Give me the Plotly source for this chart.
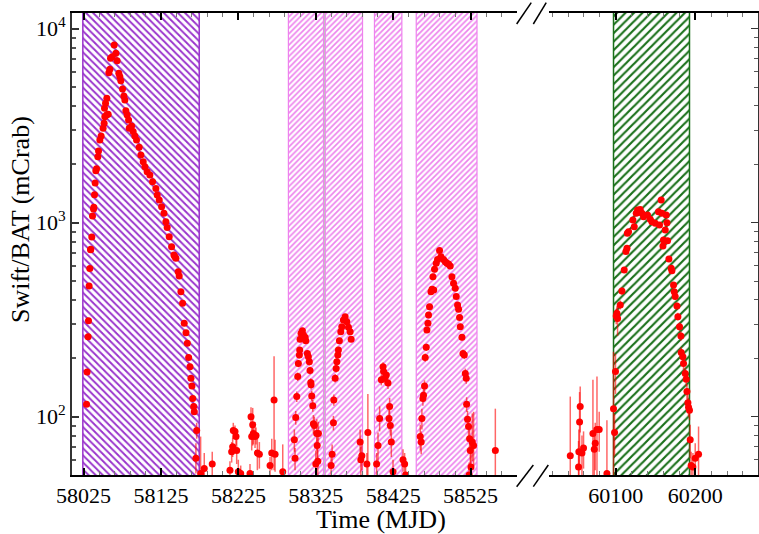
import plotly.graph_objects as go

# ---------------- data (MJD, Swift/BAT flux in mCrab) ----------------
# 2017 giant outburst
t_a = [58028.8, 58029.5, 58030.8, 58031.3, 58032.1, 58033.0, 58033.9, 58034.3, 58035.6, 58036.5,
       58037.8, 58038.2, 58039.1, 58039.9, 58040.8, 58041.7, 58043.4, 58044.3, 58046.0, 58047.6,
       58050.2, 58051.5, 58052.4, 58054.6, 58056.7, 58052.0, 58053.3, 58055.0, 58057.6, 58058.9,
       58059.8, 58061.9, 58064.5, 58066.7, 58068.3, 58070.5, 58071.8, 58073.1, 58075.3, 58077.0,
       58078.3, 58079.6, 58081.3, 58083.1, 58083.9, 58087.0, 58089.0, 58091.2, 58093.4, 58096.8,
       58099.0, 58102.0, 58104.2, 58107.1, 58110.6, 58114.1, 58118.4, 58120.1, 58122.7, 58125.8,
       58128.8, 58131.3, 58133.0, 58135.6, 58138.7, 58141.7, 58143.0, 58144.3, 58147.2, 58148.5,
       58150.7, 58152.9, 58155.0, 58157.3, 58159.0, 58160.7, 58162.4, 58163.7, 58165.0, 58165.9,
       58167.2, 58168.0]
f_a = [116, 170, 258, 312, 472, 580, 726, 730, 844, 1083,
       1177, 1200, 1394, 1600, 1854, 1900, 2188, 2343, 2668, 2797,
       3066, 3253, 3518, 3589, 3620, 3890, 4124, 4375, 5929, 6180,
       7037, 7179, 8243, 7467, 6840, 5889, 5665, 5400, 4886, 4498,
       4289, 3776, 3589, 3383, 3066, 3150, 2950, 2800, 2668, 2449,
       2234, 2061, 1943, 1831, 1760, 1626, 1503, 1390, 1309, 1210,
       1118, 1012, 946, 847, 752, 682, 668, 656, 559, 531,
       441, 384, 303, 271, 239, 202, 181, 158, 144, 124,
       113, 106]

# 2018 low state and re-brightenings
t_b = [58170.1, 58171.1, 58176.2, 58180.9, 58191.2, 58214.1, 58216.3, 58217.6, 58218.4, 58220.6,
       58221.9, 58222.8, 58224.9, 58228.0, 58240.0, 58241.3, 58242.2, 58243.5, 58244.3, 58246.5,
       58247.8, 58249.5, 58252.1, 58265.9, 58268.1, 58271.1, 58272.4, 58282.3,
       58297.3, 58298.2, 58299.1, 58300.4, 58301.7, 58302.5, 58303.8, 58304.2, 58304.7, 58306.0,
       58307.7, 58309.0, 58311.2, 58312.1, 58314.1, 58315.4, 58316.7, 58317.6, 58318.5, 58318.9,
       58319.8, 58321.1, 58321.9, 58323.2, 58325.0, 58326.3, 58326.8, 58327.6, 58328.4,
       58344.8, 58346.1, 58347.8, 58348.3, 58350.0, 58351.3, 58352.2, 58353.5, 58354.2, 58355.5,
       58357.3, 58358.6, 58360.7, 58362.9, 58365.1, 58367.2, 58369.4, 58370.7,
       58382.3, 58383.2, 58384.5, 58391.0, 58392.3,
       58403.6, 58405.4, 58407.5, 58409.7, 58411.9, 58412.6, 58413.9, 58416.1, 58418.3, 58419.6,
       58420.4, 58421.3, 58422.6, 58424.8, 58437.7, 58439.8, 58441.1,
       58460.0, 58461.2, 58462.1, 58463.4, 58464.2, 58465.5, 58466.4, 58467.7, 58468.6, 58469.9,
       58470.7, 58472.0, 58473.8, 58475.2, 58477.4, 58476.4, 58478.4, 58480.6, 58482.3, 58484.9,
       58486.7, 58490.1, 58492.3, 58494.5, 58496.5, 58498.7, 58500.9, 58503.0, 58505.2, 58506.5,
       58508.2, 58509.5, 58510.8, 58511.7, 58513.9, 58515.2, 58516.9, 58518.2, 58519.4, 58519.9,
       58521.1, 58522.4, 58523.7, 58524.6, 58525.5, 58527.2, 58528.9, 58523.2, 58557.0]
f_b = [61, 85, 51, 54, 57, 53, 66, 70, 85, 84,
       79, 67, 52, 51, 51, 100, 79, 91, 82, 79,
       80, 65, 64, 56, 65, 122, 64, 52,
       76, 61, 99, 127, 161, 188, 208, 221, 251, 269,
       277, 264, 257, 246, 212, 204, 192, 173, 150, 146,
       128, 114, 92, 90, 57, 82, 71, 59, 82,
       56, 64, 93, 122, 158, 177, 192, 208, 221, 246,
       274, 291, 315, 328, 309, 289, 274, 251,
       74, 60, 63, 57, 83,
       57, 71, 98, 155, 181, 171, 158, 164, 149, 98,
       113, 90, 74, 52, 60, 57, 50,
       79, 74, 98, 124, 129, 144, 202, 228, 280, 303,
       334, 369, 441, 454, 450, 527, 575, 618, 647, 718,
       668, 647, 629, 618, 613, 598, 527, 488, 459, 416,
       377, 358, 325, 291, 257, 212, 208, 167, 158, 116,
       97, 89, 77, 67, 55, 74, 71, 50, 67]
eh_b = [12, 8, 28, 11, 9, 6, 8, 8, 8, 6,
        8, 10, 8, 5, 6, 12, 12, 20, 10, 10,
        8, 12, 10, 6, 12, 83, 12, 20,
        10, 8, 8, 8, 8, 8, 8, 8, 8, 8,
        8, 8, 8, 8, 8, 8, 8, 8, 8, 8,
        8, 8, 10, 10, 10, 15, 10, 12, 12,
        8, 8, 8, 8, 8, 8, 8, 8, 8, 8,
        8, 8, 8, 8, 8, 8, 8, 8,
        12, 10, 10, 8, 48,
        8, 12, 15, 10, 10, 10, 10, 10, 10, 12,
        12, 10, 12, 8, 8, 8, 6,
        12, 10, 12, 10, 10, 10, 10, 10, 10, 10,
        10, 10, 10, 10, 10, 10, 10, 10, 10, 10,
        10, 10, 10, 10, 10, 10, 10, 10, 10, 10,
        10, 10, 10, 10, 10, 10, 10, 10, 10, 10,
        10, 10, 10, 12, 10, 30, 35, 8, 43]
el_b = [10, 8, 20, 10, 9, 6, 8, 8, 8, 6,
        8, 10, 8, 5, 6, 12, 12, 20, 10, 10,
        8, 12, 10, 6, 12, 69, 12, 15,
        10, 8, 8, 8, 8, 8, 8, 8, 8, 8,
        8, 8, 8, 8, 8, 8, 8, 8, 8, 8,
        8, 8, 10, 10, 10, 15, 10, 12, 12,
        8, 8, 8, 8, 8, 8, 8, 8, 8, 8,
        8, 8, 8, 8, 8, 8, 8, 8,
        12, 10, 10, 8, 33,
        8, 12, 14, 10, 10, 10, 10, 10, 10, 12,
        12, 10, 12, 8, 8, 8, 6,
        12, 10, 12, 10, 10, 10, 10, 10, 10, 10,
        10, 10, 10, 10, 10, 10, 10, 10, 10, 10,
        10, 10, 10, 10, 10, 10, 10, 10, 10, 10,
        10, 10, 10, 10, 10, 10, 10, 10, 10, 10,
        10, 10, 10, 12, 10, 15, 15, 8, 20]

# 2023 outburst
t_c = [60042.8, 60053.2, 60053.6, 60054.5, 60055.3, 60057.5, 60059.5, 60071.3, 60073.0, 60074.2,
       60076.4, 60079.2, 60088.9, 60097.2, 60098.5, 60099.7, 60100.6, 60101.5, 60102.3, 60105.7,
       60107.8, 60110.7, 60112.8, 60114.1, 60114.6, 60116.1, 60121.6, 60123.3, 60125.8, 60127.4,
       60130.8, 60133.0, 60135.0, 60140.0, 60143.4, 60145.5, 60149.7, 60153.8, 60155.1, 60157.2,
       60158.1, 60159.4, 60160.1, 60162.3, 60163.5, 60164.4, 60165.2, 60166.9, 60169.8, 60170.7,
       60172.7, 60173.6, 60174.8, 60177.0, 60178.2, 60180.3, 60182.0, 60182.4, 60184.5, 60185.3,
       60187.4, 60188.7, 60189.6, 60190.8, 60191.6, 60192.8, 60193.7, 60194.9, 60197.1, 60200.0,
       60204.2]
f_c = [63, 55, 66, 94, 113, 65, 69, 82, 68, 73,
       86, 86, 51, 110, 83, 171, 330, 341, 321, 377,
       445, 570, 710, 738, 882, 899, 1032, 953, 1118, 1162,
       1171, 1118, 1074, 1096, 1042, 1012, 993, 1140, 973, 1309,
       1118, 759, 815, 917, 1096, 1000, 807, 650, 582, 566,
       478, 441, 416, 372, 328, 291, 261, 214, 204, 188,
       167, 156, 135, 118, 112, 108, 76, 56, 55, 61,
       64]
eh_c = [64, 20, 20, 40, 30, 15, 15, 73, 20, 20,
        75, 20, 45, 106, 20, 40, 30, 30, 60, 20,
        20, 20, 20, 20, 20, 20, 20, 20, 20, 20,
        20, 20, 20, 20, 20, 20, 20, 20, 20, 20,
        20, 20, 20, 20, 20, 20, 20, 20, 20, 20,
        15, 15, 15, 15, 15, 15, 15, 15, 15, 15,
        12, 12, 12, 12, 12, 12, 15, 10, 10, 12,
        25]
el_c = [40, 20, 20, 40, 30, 15, 15, 50, 20, 20,
        50, 20, 30, 60, 20, 40, 30, 30, 60, 20,
        20, 20, 20, 20, 20, 20, 20, 20, 20, 20,
        20, 20, 20, 20, 20, 20, 20, 20, 20, 20,
        20, 20, 20, 20, 20, 20, 20, 20, 20, 20,
        15, 15, 15, 15, 15, 15, 15, 15, 15, 15,
        12, 12, 12, 12, 12, 12, 15, 10, 10, 12,
        20]

# shaded intervals (MJD)
purple_start = [58024.0]
purple_end = [58174.4]
violet_start = [58289.6, 58337.3, 58400.8, 58454.8]
violet_end = [58335.0, 58385.4, 58436.2, 58533.3]
green_start = [60097.2]
green_end = [60192.8]
divider_mjd = [58336.2]

# y-axis ticks
y_ticks = [100, 1000, 10000]
y_tick_text = ["10<sup>2</sup>", "10<sup>3</sup>", "10<sup>4</sup>"]

FONT = "Liberation Serif, Times New Roman, serif"
RED = "#ff0000"
YLO, YHI = 1, 1e6

fig = go.Figure()


def add_band(x0, x1, xa, ya, color, shape, size, solidity, lw):
    fig.add_trace(go.Scatter(
        x=[x0, x1, x1, x0, x0], y=[YLO, YLO, YHI, YHI, YLO],
        xaxis=xa, yaxis=ya, mode="lines", fill="toself",
        fillcolor="rgba(255,255,255,0)",
        fillpattern=dict(shape=shape, fgcolor=color, bgcolor="white",
                         size=size, solidity=solidity, fillmode="replace"),
        line=dict(color=color, width=lw), hoverinfo="skip", showlegend=False))


for s, e in zip(purple_start, purple_end):
    add_band(s, e, "x", "y", "#9933CC", "\\", 5, 0.38, 1.5)
for s, e in zip(violet_start, violet_end):
    add_band(s, e, "x", "y", "#EE82EE", "/", 4, 0.42, 1.2)
for s, e in zip(green_start, green_end):
    add_band(s, e, "x2", "y2", "#1a701a", "/", 6, 0.36, 1.5)

marker = dict(color=RED, size=7, line=dict(width=0))
err = dict(color="rgba(255,0,0,0.6)", thickness=1.5, width=0)

fig.add_trace(go.Scatter(x=t_a, y=f_a, mode="markers", marker=marker,
                         xaxis="x", yaxis="y", showlegend=False))
fig.add_trace(go.Scatter(x=t_b, y=f_b, mode="markers", marker=marker,
                         error_y=dict(type="data", array=eh_b, arrayminus=el_b,
                                      symmetric=False, **err),
                         xaxis="x", yaxis="y", showlegend=False))
fig.add_trace(go.Scatter(x=t_c, y=f_c, mode="markers", marker=marker,
                         error_y=dict(type="data", array=eh_c, arrayminus=el_c,
                                      symmetric=False, **err),
                         xaxis="x2", yaxis="y2", showlegend=False))

# thin divider between first two shaded windows
for d in divider_mjd:
    fig.add_shape(type="line", xref="x", yref="paper", x0=d, x1=d, y0=0, y1=1,
                  line=dict(color="#c0c0c0", width=1))

# axis break marks
for (xa, xb) in [(0.6482, 0.6725), (0.6725, 0.6943)]:
    fig.add_shape(type="line", xref="paper", yref="paper", x0=xa, x1=xb,
                  y0=-0.0253, y1=0.0216, line=dict(color="black", width=1.5))
    fig.add_shape(type="line", xref="paper", yref="paper", x0=xa, x1=xb - 0.003,
                  y0=0.9762, y1=1.0223, line=dict(color="black", width=1.5))

xcommon = dict(showgrid=False, zeroline=False, showline=True, linecolor="black",
               linewidth=1.5, mirror="ticks", ticks="inside", ticklen=7, tickwidth=1.5,
               tickcolor="black", tickfont=dict(family=FONT, size=22, color="black"),
               dtick=100, tickformat="d", automargin=False)

fig.update_layout(
    width=759, height=534,
    margin=dict(l=72, r=1, t=13, b=59, autoexpand=False),
    paper_bgcolor="white", plot_bgcolor="white",
    showlegend=False,
    font=dict(family=FONT, color="black"),
    xaxis=dict(domain=[0, 0.6487], range=[58010, 58585], tick0=58025, anchor="y",
               minor=dict(dtick=20, tick0=58025, ticks="inside", ticklen=4,
                          tickcolor="#777777", tickwidth=1),
               **xcommon),
    xaxis2=dict(domain=[0.6953, 1], range=[60016, 60279], tick0=60100, anchor="y2",
                minor=dict(dtick=20, tick0=60100, ticks="inside", ticklen=4,
                           tickcolor="#777777", tickwidth=1),
                **xcommon),
    yaxis=dict(type="log", range=[1.6995, 4.081], anchor="x", showgrid=False,
               zeroline=False, showline=True, linecolor="#333333", linewidth=2,
               ticks="inside", ticklen=7, tickwidth=1.5, tickcolor="#333333",
               tickmode="array", tickvals=y_ticks, ticktext=y_tick_text,
               automargin=False,
               tickfont=dict(family=FONT, size=22, color="black"),
               minor=dict(ticks="inside", ticklen=4, tickcolor="#555555", dtick="D1")),
    yaxis2=dict(type="log", matches="y", anchor="x2", side="right", showgrid=False,
                zeroline=False, showline=True, linecolor="#333333", linewidth=1.5,
                ticks="inside", ticklen=7, tickcolor="#333333", showticklabels=False,
                tickmode="array", tickvals=y_ticks, automargin=False,
                minor=dict(ticks="inside", ticklen=4, tickcolor="#555555", dtick="D1")),
    annotations=[
        dict(text="Time (MJD)", x=0.45, y=-0.097, xref="paper", yref="paper",
             showarrow=False, xanchor="center", yanchor="middle",
             font=dict(family=FONT, size=26, color="black")),
        dict(text="Swift/BAT (mCrab)", x=-0.0743, y=0.552, xref="paper", yref="paper",
             showarrow=False, xanchor="center", yanchor="middle", textangle=-90,
             font=dict(family=FONT, size=26, color="black")),
    ],
)

fig.write_html("out.html", config={"displayModeBar": False},
               post_script="document.body.style.margin='0';document.body.style.overflow='hidden';")
